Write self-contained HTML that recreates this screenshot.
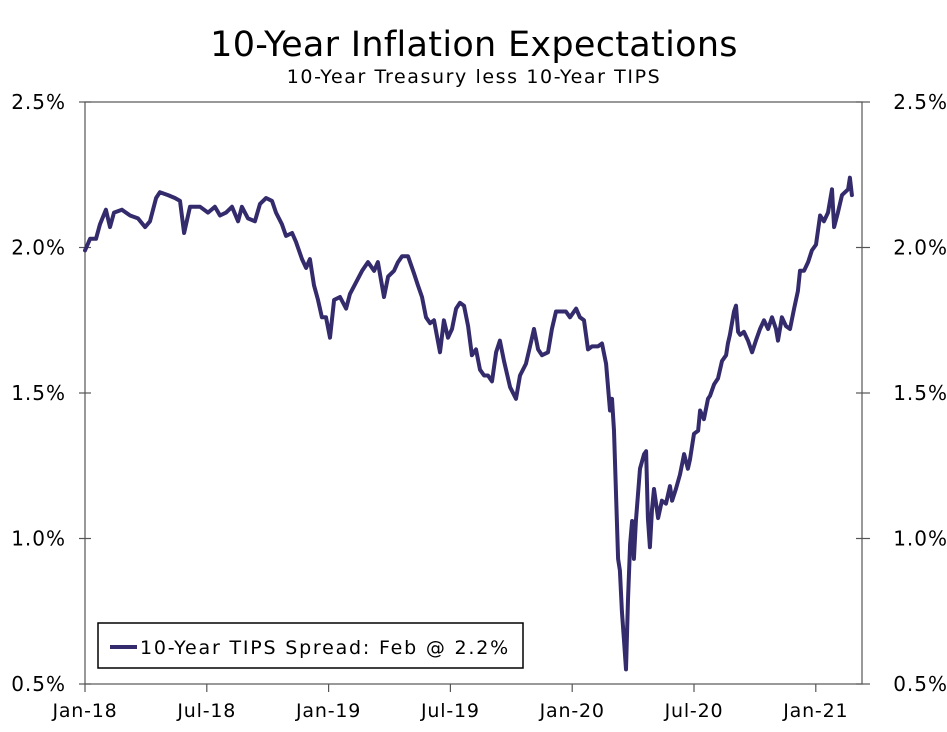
<!DOCTYPE html>
<html><head><meta charset="utf-8"><style>
body{margin:0;background:#fff;}
svg text{font-family:"DejaVu Sans","Liberation Sans",sans-serif;fill:#000;}
</style></head><body>
<svg id="chart" width="947" height="727" viewBox="0 0 947 727" xmlns="http://www.w3.org/2000/svg">
<rect width="947" height="727" fill="#fff"/>
<text x="474" y="56" font-size="35" letter-spacing="0.3" text-anchor="middle">10-Year Inflation Expectations</text>
<text x="474" y="83" font-size="19" letter-spacing="1.6" text-anchor="middle">10-Year Treasury less 10-Year TIPS</text>
<rect x="85" y="102" width="777" height="582" fill="none" stroke="#555" stroke-width="1.2"/>
<g id="axes"></g>
<g id="series"></g>
<g>
<rect x="98" y="623" width="425" height="45" fill="#fff" stroke="#000" stroke-width="1.5"/>
<line x1="110" y1="647" x2="137" y2="647" stroke="#332b6c" stroke-width="4"/>
<text x="140" y="654" font-size="19" letter-spacing="1.8">10-Year TIPS Spread: Feb @ 2.2%</text>
</g>
</svg>
<script>
const months=[0,.25,.54,.74,1.03,1.23,1.43,1.82,2.22,2.61,2.96,3.2,3.5,3.69,4.09,4.43,4.68,4.88,5.17,5.67,6.06,6.4,6.65,6.95,7.24,7.54,7.73,8.03,8.37,8.62,8.92,9.21,9.41,9.7,9.9,10.2,10.39,10.69,10.89,11.08,11.28,11.48,11.67,11.87,12.07,12.27,12.56,12.86,13.05,13.35,13.65,13.94,14.24,14.43,14.73,14.93,15.22,15.42,15.62,15.91,16.21,16.4,16.6,16.8,17.0,17.19,17.49,17.68,17.88,18.08,18.28,18.47,18.67,18.87,19.06,19.26,19.46,19.66,19.85,20.05,20.25,20.44,20.64,20.94,21.23,21.43,21.72,21.92,22.12,22.32,22.51,22.81,23.0,23.2,23.4,23.69,23.89,24.19,24.38,24.58,24.78,24.98,25.27,25.47,25.67,25.86,25.96,26.06,26.26,26.35,26.45,26.55,26.65,26.75,26.85,26.95,27.04,27.14,27.34,27.54,27.64,27.73,27.83,27.93,28.03,28.23,28.42,28.62,28.82,28.92,29.11,29.31,29.51,29.7,29.8,30.0,30.2,30.3,30.49,30.69,30.79,30.99,31.18,31.38,31.58,31.67,31.77,31.97,32.07,32.17,32.27,32.46,32.66,32.86,33.05,33.25,33.45,33.65,33.84,34.04,34.14,34.33,34.53,34.73,34.93,35.12,35.22,35.42,35.62,35.81,36.01,36.21,36.4,36.6,36.8,36.9,37.09,37.29,37.59,37.68,37.78];
const spread=[1.99,2.03,2.03,2.08,2.13,2.07,2.12,2.13,2.11,2.10,2.07,2.09,2.17,2.19,2.18,2.17,2.16,2.05,2.14,2.14,2.12,2.14,2.11,2.12,2.14,2.09,2.14,2.10,2.09,2.15,2.17,2.16,2.12,2.08,2.04,2.05,2.02,1.96,1.93,1.96,1.87,1.82,1.76,1.76,1.69,1.82,1.83,1.79,1.84,1.88,1.92,1.95,1.92,1.95,1.83,1.90,1.92,1.95,1.97,1.97,1.91,1.87,1.83,1.76,1.74,1.75,1.64,1.75,1.69,1.72,1.79,1.81,1.80,1.73,1.63,1.65,1.58,1.56,1.56,1.54,1.64,1.68,1.61,1.52,1.48,1.56,1.60,1.66,1.72,1.65,1.63,1.64,1.72,1.78,1.78,1.78,1.76,1.79,1.76,1.75,1.65,1.66,1.66,1.67,1.60,1.44,1.48,1.37,0.93,0.89,0.75,0.65,0.55,0.79,0.98,1.06,0.93,1.06,1.24,1.29,1.30,1.07,0.97,1.10,1.17,1.07,1.13,1.12,1.18,1.13,1.17,1.22,1.29,1.24,1.27,1.36,1.37,1.44,1.41,1.48,1.49,1.53,1.55,1.61,1.63,1.67,1.70,1.78,1.80,1.71,1.70,1.71,1.68,1.64,1.68,1.72,1.75,1.72,1.76,1.72,1.68,1.76,1.73,1.72,1.79,1.85,1.92,1.92,1.95,1.99,2.01,2.11,2.09,2.12,2.20,2.07,2.12,2.18,2.20,2.24,2.18];
const yTicks=[0.5,1.0,1.5,2.0,2.5];
const xTickMonths=[0,6,12,18,24,30,36];
const xTickLabels=["Jan-18","Jul-18","Jan-19","Jul-19","Jan-20","Jul-20","Jan-21"];

const L=85,R=862,T=102,B=684;
const xs=m=>L+m*20.3;
const ys=v=>B-(v-0.5)/2*(B-T);
const NS="http://www.w3.org/2000/svg";
const axes=document.getElementById('axes');
function mk(tag,attrs,parent){const e=document.createElementNS(NS,tag);for(const k in attrs)e.setAttribute(k,attrs[k]);parent.appendChild(e);return e;}
yTicks.forEach(v=>{
  const y=ys(v);
  const t1=mk('line',{x1:L-6,x2:L+6,y1:y,y2:y,stroke:'#555','stroke-width':1.2},axes);
  
  
  const t2=mk('line',{x1:R-6,x2:R+8,y1:y,y2:y,stroke:'#555','stroke-width':1.2},axes);
  
  
  const a=mk('text',{x:L-19,y:y+7,'font-size':20,'letter-spacing':1,'text-anchor':'end'},axes);
  a.textContent=v.toFixed(1)+'%';
  
  
  const b=mk('text',{x:R+86,y:y+7,'font-size':20,'letter-spacing':1,'text-anchor':'end'},axes);
  b.textContent=v.toFixed(1)+'%';
  
  
});
xTickMonths.forEach((m,i)=>{
  const x=xs(m);
  const t=mk('line',{x1:x,x2:x,y1:B,y2:B+8,stroke:'#555','stroke-width':1.2},axes);
  
  
  const lb=mk('text',{x:x,y:B+33,'font-size':19,'letter-spacing':0.8,'text-anchor':'middle'},axes);
  lb.textContent=xTickLabels[i];
  
  
});
const d=months.map((m,i)=>(i?'L':'M')+xs(m).toFixed(1)+' '+ys(spread[i]).toFixed(1)).join(' ');
const p=mk('path',{d:d,fill:'none',stroke:'#332b6c','stroke-width':4,'stroke-linejoin':'round','stroke-linecap':'round'},document.getElementById('series'));


</script>
</body></html>
